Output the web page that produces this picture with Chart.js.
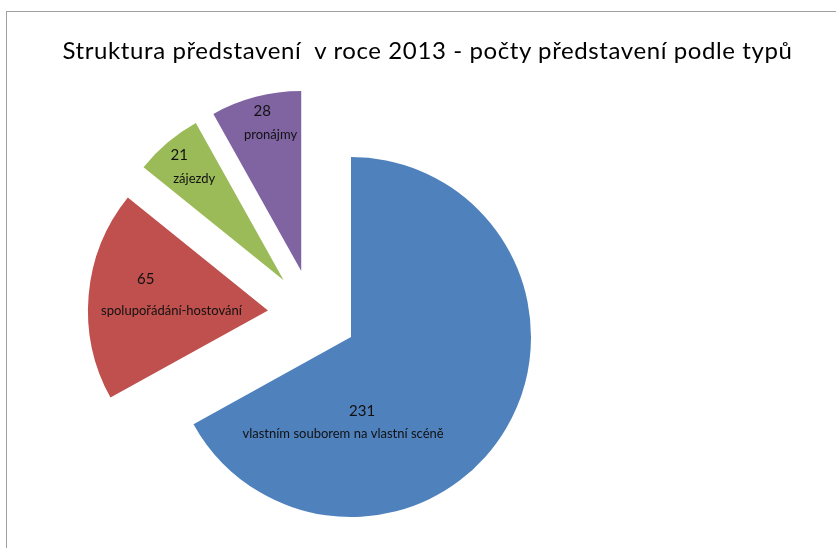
<!DOCTYPE html>
<html>
<head>
<meta charset="utf-8">
<script src="https://cdn.jsdelivr.net/npm/chart.js@4/dist/chart.umd.min.js"></script>
<style>
  body { margin: 0; background: #fff; }
  #wrap { position: relative; width: 836px; height: 548px; overflow: hidden; }
  #frame { position: absolute; left: 6px; top: 11px; width: 900px; height: 600px; border: 1px solid #a0a0a0; }
  #title { position: absolute; left: 0; top: 36px; width: 855px; text-align: center; font: 24px Lato; letter-spacing: 0.6px; color: #000; white-space: pre; line-height: 28px; }
  canvas { position: absolute; left: 0; top: 0; }
</style>
</head>
<body>
<div id="wrap">
  <div id="frame"></div>
  <canvas id="pie" width="836" height="548"></canvas>
  <div id="title"></div>
</div>
<script>
const chartTitle = "Struktura představení  v roce 2013 - počty představení podle typů";
const categories = ["vlastním souborem na vlastní scéně", "spolupořádání-hostování", "zájezdy", "pronájmy"];
const counts = [231, 65, 21, 28];
const sliceColors = ["#4F81BD", "#C0504D", "#9BBB59", "#8064A2"];

// label placement relative to each exploded slice (fraction of radius, extra turn in degrees)
const labelLayout = [
  { frac: 0.477, turn: 64.8, numDx: 19, gap: 23 },
  { frac: 0.543, turn: 4.1, numDx: -25.7, gap: 31.7 },
  { frac: 0.80, turn: 1.8, numDx: -15, gap: 24 },
  { frac: 0.84, turn: 2.9, numDx: -8.3, gap: 23.3 },
];
const explode = 44.7;
const pieRadius = 180;

document.getElementById("title").textContent = chartTitle;

// shift every slice out along its middle angle
const explodePlugin = {
  id: "explode",
  afterDatasetUpdate(chart, args) {
    args.meta.data.forEach((arc) => {
      const mid = (arc.startAngle + arc.endAngle) / 2;
      arc.x += Math.cos(mid) * explode;
      arc.y += Math.sin(mid) * explode;
    });
  },
};

const sliceLabels = {
  id: "sliceLabels",
  afterDatasetsDraw(chart) {
    const ctx = chart.ctx;
    const meta = chart.getDatasetMeta(0);
    ctx.save();
    ctx.fillStyle = "#111";
    ctx.textAlign = "center";
    ctx.textBaseline = "middle";
    meta.data.forEach((arc, i) => {
      const lay = labelLayout[i];
      const mid = (arc.startAngle + arc.endAngle) / 2 + (lay.turn * Math.PI) / 180;
      const ax = arc.x + Math.cos(mid) * arc.outerRadius * lay.frac;
      const ay = arc.y + Math.sin(mid) * arc.outerRadius * lay.frac;
      ctx.font = "15px Lato";
      ctx.fillText(String(counts[i]), ax + lay.numDx, ay - lay.gap / 2);
      ctx.font = "13px Lato";
      ctx.fillText(categories[i], ax, ay + lay.gap / 2);
    });
    ctx.restore();
  },
};

new Chart(document.getElementById("pie").getContext("2d"), {
  type: "pie",
  data: {
    labels: categories,
    datasets: [
      {
        data: counts,
        backgroundColor: sliceColors,
        borderWidth: 0,
      },
    ],
  },
  options: {
    responsive: false,
    animation: false,
    radius: pieRadius,
    layout: { padding: { left: 62, right: 273, top: 80.6, bottom: 0 } },
    plugins: {
      legend: { display: false },
      tooltip: { enabled: false },
      title: { display: false },
    },
  },
  plugins: [explodePlugin, sliceLabels],
});
</script>
</body>
</html>
